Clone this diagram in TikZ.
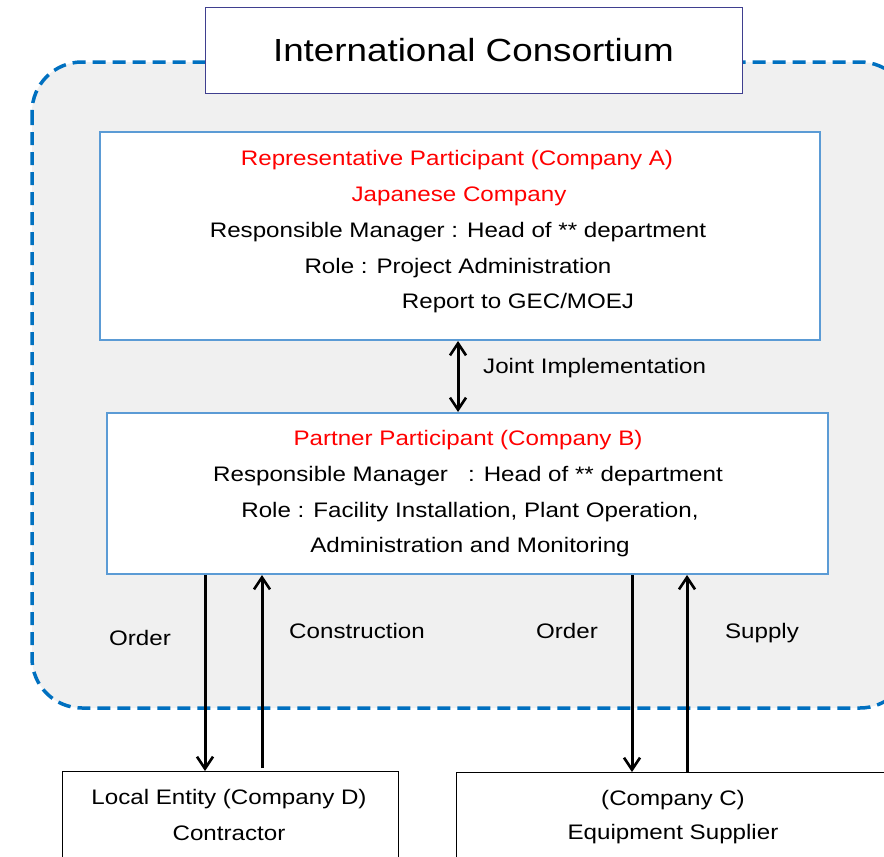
\documentclass[tikz,border=0pt]{standalone}
\usepackage{fontspec}
\setmainfont[FakeStretch=1.15]{Liberation Sans}
\usetikzlibrary{arrows.meta}
\definecolor{dashblue}{HTML}{0070C0}
\definecolor{boxblue}{HTML}{5B9BD5}
\definecolor{titleborder}{HTML}{3F3F8F}
\definecolor{bggray}{HTML}{F0F0F0}
\begin{document}
\begin{tikzpicture}[x=1pt,y=-1pt,
  txt/.style={inner sep=0pt,font=\fontsize{21}{24}\selectfont},
  redtxt/.style={txt,text=red},
  tip/.tip={Straight Barb[length=12pt,width=16pt,line width=2.6pt]},
  flow/.style={line width=3pt,-tip},
  lab/.style={txt,anchor=center}]
\useasboundingbox (0,0) rectangle (884,857);
% consortium area
\draw[dashblue,line width=3.5pt,dash pattern=on 13pt off 7pt,fill=bggray,rounded corners=50pt]
  (32,62) rectangle (910,708);
% title
\node[draw=titleborder,line width=1pt,fill=white,minimum width=537pt,minimum height=86pt,
  font=\fontsize{32}{36}\selectfont] (title) at (473.5,50) {International Consortium};
% box A
\node[draw=boxblue,line width=2pt,fill=white,minimum width=720pt,minimum height=208pt] (A) at (460,236) {};
\node[redtxt] (a1) at (457,160) {Representative Participant (Company A)};
\node[redtxt] (a2) at (459,196) {Japanese Company};
\node[txt] (a3) at (458,232) {Responsible Manager : Head of ** department};
\node[txt] (a4) at (458,268) {Role : Project Administration};
\node[txt] (a5) at (518,303) {Report to GEC/MOEJ};
% box B
\node[draw=boxblue,line width=2pt,fill=white,minimum width=721pt,minimum height=161pt] (B) at (467.5,493.5) {};
\node[redtxt] (b1) at (468,440) {Partner Participant (Company B)};
\node[txt] (b2) at (468,476) {Responsible Manager \ \ : Head of ** department};
\node[txt] (b3) at (470,512) {Role : Facility Installation, Plant Operation,};
\node[txt] (b4) at (470,547) {Administration and Monitoring};
% joint implementation
\draw[line width=3pt,tip-tip] (A.south -| 458,0) -- (B.north -| 458,0);
\node[txt,anchor=west] (ji) at (483,368) {Joint Implementation};
% lower boxes
\node[draw,line width=1pt,fill=white,minimum width=336pt,minimum height=120pt,anchor=north west] (D) at (62,771) {};
\node[txt] (d1) at (229,799) {Local Entity (Company D)};
\node[txt] (d2) at (229,833) {Contractor};
\node[draw,line width=1pt,fill=white,minimum width=440pt,minimum height=120pt,anchor=north west] (C) at (456,772) {};
\node[txt] (c1) at (673,800) {(Company C)};
\node[txt] (c2) at (673,834) {Equipment Supplier};
% flows
\draw[flow] (B.south -| 205,0) -- (D.north -| 205,0);
\draw[flow] (D.north -| 262,0) ++(0,-3) coordinate (dc) (dc) -- (B.south -| 262,0);
\draw[flow] (B.south -| 632,0) -- (C.north -| 632,0);
\draw[flow] (C.north -| 687,0) -- (B.south -| 687,0);
\node[lab] (o1) at (140,638) {Order};
\node[lab] (cons) at (357,631) {Construction};
\node[lab] (o2) at (567,631) {Order};
\node[lab] (sup) at (762,633) {Supply};
\end{tikzpicture}
\end{document}
